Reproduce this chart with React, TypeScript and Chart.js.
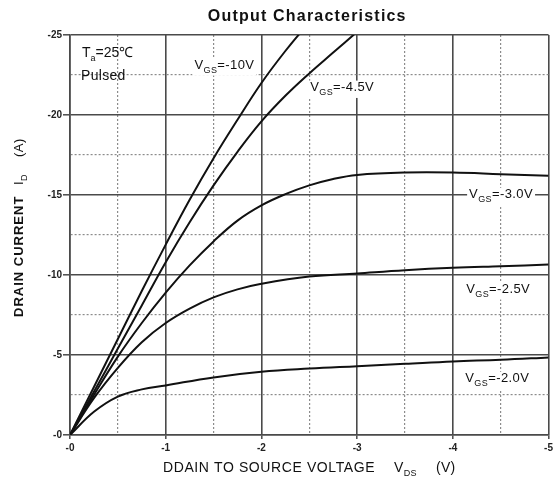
import React, { useEffect, useRef } from 'react';
import { Chart, registerables } from 'chart.js';

Chart.register(...registerables);

const TITLE = 'Output Characteristics';
const X_TITLE = 'DDAIN TO SOURCE VOLTAGE';
const Y_TITLE = 'DRAIN CURRENT';

const X_TICKS = [0, -1, -2, -3, -4, -5];
const Y_TICKS = [0, -5, -10, -15, -20, -25];

const vgsNames = ['-10V', '-4.5V', '-3.0V', '-2.5V', '-2.0V'];

// V_GS = -10V
const vdsA = [0, -0.25, -0.5, -0.75, -1, -1.25, -1.5, -1.75, -2, -2.25, -2.5];
const idA = [0, -3.0, -6.0, -9.0, -11.9, -14.7, -17.3, -19.7, -22.0, -24.0, -25.8];
// V_GS = -4.5V
const vdsB = [0, -0.25, -0.5, -0.75, -1, -1.25, -1.5, -1.75, -2, -2.25, -2.5, -2.75, -3];
const idB = [0, -2.7, -5.4, -8.1, -10.8, -13.3, -15.6, -17.7, -19.6, -21.2, -22.6, -23.9, -25.2];
// V_GS = -3.0V
const vdsC = [0, -0.25, -0.5, -0.75, -1, -1.25, -1.5, -1.75, -2, -2.25, -2.5, -2.75, -3, -3.5, -4, -4.5, -5];
const idC = [0, -2.5, -4.9, -7.0, -8.9, -10.6, -12.1, -13.4, -14.35, -15.05, -15.6, -16.0, -16.25, -16.4, -16.4, -16.3, -16.2];
// V_GS = -2.5V
const vdsD = [0, -0.25, -0.5, -0.75, -1, -1.25, -1.5, -1.75, -2, -2.5, -3, -3.5, -4, -4.5, -5];
const idD = [0, -2.3, -4.2, -5.8, -7.0, -7.9, -8.6, -9.1, -9.45, -9.9, -10.1, -10.3, -10.45, -10.55, -10.65];
// V_GS = -2.0V
const vdsE = [0, -0.25, -0.5, -0.75, -1, -1.5, -2, -2.5, -3, -3.5, -4, -4.5, -5];
const idE = [0, -1.45, -2.4, -2.85, -3.1, -3.6, -3.95, -4.15, -4.3, -4.45, -4.6, -4.7, -4.85];

const seriesX = [vdsA, vdsB, vdsC, vdsD, vdsE];
const seriesY = [idA, idB, idC, idD, idE];

// label anchors (data coordinates of left baseline)
const labelVds = [-1.30, -2.51, -4.17, -4.14, -4.13];
const labelId = [-22.9, -21.5, -14.8, -8.9, -3.3];

const FONT = '"Liberation Sans", Arial, Helvetica, sans-serif';

const near = (a: number, b: number) => Math.abs(a - b) < 1e-6;
const isMajorX = (v: number) => X_TICKS.some((t) => near(t, v));
const isMajorY = (v: number) => Y_TICKS.some((t) => near(t, v));
const fmt = (v: number) => (v === 0 ? '-0' : String(v));

type Part = { t: string; sub?: boolean };

function drawRich(ctx: CanvasRenderingContext2D, parts: Part[], x: number, y: number, size: number, subSize: number, spacing: number, bg: boolean) {
  ctx.save();
  ctx.textBaseline = 'alphabetic';
  ctx.textAlign = 'left';
  let w = 0;
  const widths: number[] = [];
  for (const p of parts) {
    ctx.font = `${p.sub ? subSize : size}px ${FONT}`;
    (ctx as any).letterSpacing = `${spacing}px`;
    const m = ctx.measureText(p.t).width;
    widths.push(m);
    w += m;
  }
  if (bg) {
    ctx.fillStyle = '#ffffff';
    ctx.fillRect(x - 2, y - size * 0.8, w + 4, size * 0.8 + subSize * 0.55 + 2);
  }
  ctx.fillStyle = '#111';
  let cx = x;
  parts.forEach((p, i) => {
    ctx.font = `${p.sub ? subSize : size}px ${FONT}`;
    (ctx as any).letterSpacing = `${spacing}px`;
    ctx.fillText(p.t, cx, p.sub ? y + subSize * 0.45 : y);
    cx += widths[i];
  });
  ctx.restore();
}

const textPlugin = {
  id: 'texts',
  afterDatasetsDraw(chart: any) {
    const ctx: CanvasRenderingContext2D = chart.ctx;
    const xs = chart.scales.x;
    const ys = chart.scales.y;
    const area = chart.chartArea;

    vgsNames.forEach((name, i) => {
      const px = xs.getPixelForValue(labelVds[i]);
      const py = ys.getPixelForValue(labelId[i]);
      drawRich(ctx, [{ t: 'V' }, { t: 'GS', sub: true }, { t: '=' + name }], px, py, 13, 9, 0.4, true);
    });

    drawRich(ctx, [{ t: 'T' }, { t: 'a', sub: true }, { t: '=25℃' }], xs.getPixelForValue(-0.125), ys.getPixelForValue(-23.6), 14, 9, 0, false);
    drawRich(ctx, [{ t: 'Pulsed' }], xs.getPixelForValue(-0.115), ys.getPixelForValue(-22.2), 14, 9, 0.3, false);

    ctx.save();
    ctx.font = `bold 16px ${FONT}`;
    (ctx as any).letterSpacing = '1.2px';
    ctx.fillStyle = '#111';
    ctx.textAlign = 'center';
    ctx.textBaseline = 'alphabetic';
    ctx.fillText(TITLE, (area.left + area.right) / 2 - 2, 21);
    ctx.restore();

    ctx.save();
    ctx.font = `14px ${FONT}`;
    (ctx as any).letterSpacing = '0.6px';
    ctx.fillStyle = '#111';
    ctx.textAlign = 'left';
    ctx.fillText(X_TITLE, 163, 472);
    ctx.restore();
    drawRich(ctx, [{ t: 'V' }, { t: 'DS', sub: true }], 394, 472, 14, 9, 0.3, false);
    drawRich(ctx, [{ t: '(V)' }], 436, 472, 14, 9, 0.3, false);

    ctx.save();
    ctx.translate(22.5, 317);
    ctx.rotate(-Math.PI / 2);
    ctx.font = `bold 13px ${FONT}`;
    (ctx as any).letterSpacing = '1px';
    ctx.fillStyle = '#111';
    ctx.textAlign = 'left';
    ctx.fillText(Y_TITLE, 0, 0);
    ctx.restore();
    ctx.save();
    ctx.translate(22.5, 317);
    ctx.rotate(-Math.PI / 2);
    drawRich(ctx, [{ t: 'I' }, { t: 'D', sub: true }], 132, 0, 13, 9, 0.5, false);
    drawRich(ctx, [{ t: '(A)' }], 160, 0, 13, 9, 0.5, false);
    ctx.restore();
  },
};

const MAJOR = '#4a4a4a';
const MINOR = '#8c8c8c';

export default function App() {
  const ref = useRef<HTMLCanvasElement | null>(null);
  useEffect(() => {
    if (!ref.current) return;
    const datasets = seriesX.map((xsArr, i) => ({
      label: 'VGS=' + vgsNames[i],
      data: xsArr.map((x, j) => ({ x, y: seriesY[i][j] })),
      borderColor: '#111',
      borderWidth: 2,
      pointRadius: 0,
      fill: false,
      tension: 0.4,
    }));
    const chart = new Chart(ref.current, {
      type: 'line',
      data: { datasets },
      options: {
        responsive: false,
        animation: false,
        devicePixelRatio: 1,
        layout: { padding: { top: 35, right: 5, left: 0, bottom: 0 } },
        plugins: { legend: { display: false }, tooltip: { enabled: false }, title: { display: false } },
        scales: {
          x: {
            type: 'linear',
            min: -5,
            max: 0,
            reverse: true,
            afterFit: (s: any) => { s.height = 48; },
            ticks: {
              stepSize: 0.5,
              autoSkip: false,
              maxRotation: 0,
              padding: 3,
              color: '#222',
              font: { family: FONT, size: 10, weight: 'bold' },
              callback: (v: any) => (isMajorX(Number(v)) ? fmt(Number(v)) : ''),
            },
            grid: {
              color: (c: any) => (c.tick && isMajorX(c.tick.value) ? MAJOR : MINOR),
              lineWidth: (c: any) => (c.tick && isMajorX(c.tick.value) ? 1.6 : 1.2),
              tickLength: 4,
              tickColor: (c: any) => (c.tick && isMajorX(c.tick.value) ? MAJOR : 'rgba(0,0,0,0)'),
              tickWidth: 1.5,
            },
            border: {
              display: true,
              color: MAJOR,
              width: 1.6,
              dash: (c: any) => (c.tick && !isMajorX(c.tick.value) ? [2, 2] : []),
            },
          },
          y: {
            type: 'linear',
            min: -25,
            max: 0,
            reverse: true,
            afterFit: (s: any) => { s.width = 70; },
            ticks: {
              stepSize: 2.5,
              autoSkip: false,
              padding: 1,
              color: '#222',
              font: { family: FONT, size: 10, weight: 'bold' },
              callback: (v: any) => (isMajorY(Number(v)) ? fmt(Number(v)) : ''),
            },
            grid: {
              color: (c: any) => (c.tick && isMajorY(c.tick.value) ? MAJOR : MINOR),
              lineWidth: (c: any) => (c.tick && isMajorY(c.tick.value) ? 1.6 : 1.2),
              tickLength: 7,
              tickColor: (c: any) => (c.tick && isMajorY(c.tick.value) ? MAJOR : 'rgba(0,0,0,0)'),
              tickWidth: 1.5,
            },
            border: {
              display: true,
              color: MAJOR,
              width: 1.6,
              dash: (c: any) => (c.tick && !isMajorY(c.tick.value) ? [2, 2] : []),
            },
          },
        },
      },
      plugins: [textPlugin],
    } as any);
    return () => chart.destroy();
  }, []);
  return (
    <div style={{ position: 'fixed', left: 0, top: 0, width: 556, height: 483, background: '#fff' }}>
      <canvas ref={ref} width={556} height={483} style={{ display: 'block' }} />
    </div>
  );
}
